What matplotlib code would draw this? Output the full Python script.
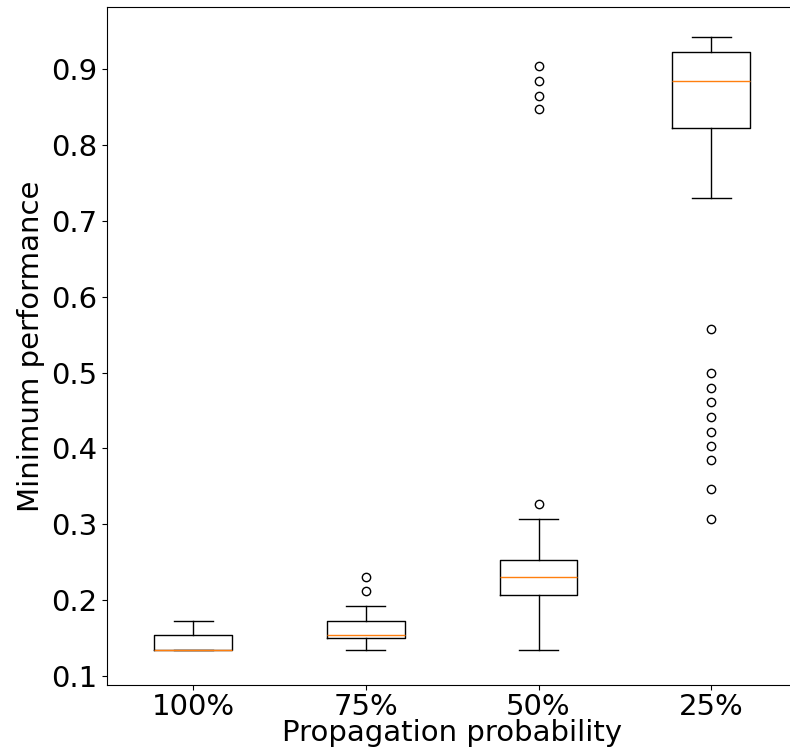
import matplotlib
matplotlib.use("Agg")
import matplotlib.pyplot as plt

categories = ["100%", "75%", "50%", "25%"]
whislo = [0.134, 0.134, 0.134, 0.730]
q1 = [0.134, 0.150, 0.207, 0.822]
med = [0.134, 0.154, 0.230, 0.885]
q3 = [0.154, 0.172, 0.253, 0.922]
whishi = [0.172, 0.192, 0.307, 0.942]
fliers = [
    [],
    [0.212, 0.230],
    [0.327, 0.847, 0.865, 0.885, 0.904],
    [0.307, 0.346, 0.385, 0.403, 0.421, 0.441, 0.461, 0.479, 0.499, 0.558],
]

stats = []
for i, c in enumerate(categories):
    stats.append(dict(label=c, whislo=whislo[i], q1=q1[i], med=med[i],
                      q3=q3[i], whishi=whishi[i], fliers=fliers[i]))

fig = plt.figure(figsize=(7.9, 7.52), dpi=100)
ax = fig.add_axes([0.1354, 0.0891, 0.874, 0.9016])
ax.bxp(stats, widths=0.45)
ax.set_xlim(0.5, 4.5)
ax.set_ylim(0.088, 0.982)
ax.set_yticks([0.1, 0.2, 0.3, 0.4, 0.5, 0.6, 0.7, 0.8, 0.9])
ax.tick_params(labelsize=21)
ax.tick_params(axis="x", pad=2)
ax.set_xlabel("Propagation probability", fontsize=21, labelpad=-1)
ax.set_ylabel("Minimum performance", fontsize=21)
fig.savefig("out.png", dpi=100)
